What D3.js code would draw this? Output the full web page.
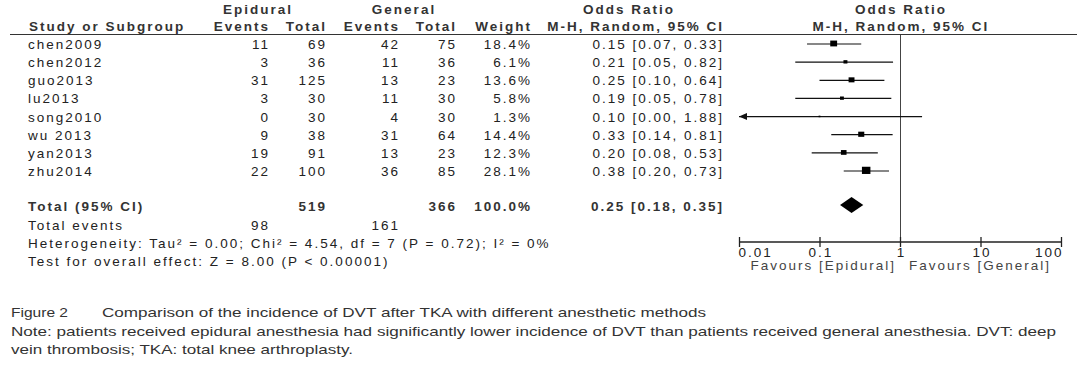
<!DOCTYPE html>
<html>
<head>
<meta charset="utf-8">
<script src="https://cdn.jsdelivr.net/npm/d3@7"></script>
<style>
body { margin: 0; background: #fff; }
text { font-family: "Liberation Sans", Arial, sans-serif; }
</style>
</head>
<body>
<div id="chart"></div>
<script>
let w = 1092
let h = 391

// study rows
let studies = ["chen2009", "chen2012", "guo2013", "lu2013", "song2010", "wu 2013", "yan2013", "zhu2014"]
let epiEvents = [11, 3, 31, 3, 0, 9, 19, 22]
let epiTotal = [69, 36, 125, 30, 30, 38, 91, 100]
let genEvents = [42, 11, 13, 11, 4, 31, 13, 36]
let genTotal = [75, 36, 23, 30, 30, 64, 23, 85]
let weights = [18.4, 6.1, 13.6, 5.8, 1.3, 14.4, 12.3, 28.1]
let oddsRatio = [0.15, 0.21, 0.25, 0.19, 0.10, 0.33, 0.20, 0.38]
let ciLow = [0.07, 0.05, 0.10, 0.05, 0.00, 0.14, 0.08, 0.20]
let ciHigh = [0.33, 0.82, 0.64, 0.78, 1.88, 0.81, 0.53, 0.73]

// pooled result
let pooled = [0.25, 0.18, 0.35]
let totals = [519, 366]
let totalEvents = [98, 161]

let ticks = [0.01, 0.1, 1, 10, 100]
let tickLabels = ["0.01", "0.1", "1", "10", "100"]

let svg = d3.select("#chart")
  .append("svg")
  .attr("width", w)
  .attr("height", h)

let x = d3.scaleLog()
  .domain([0.01, 100])
  .range([739, 1061])

let y = d3.scaleLinear()
  .domain([0, studies.length - 1])
  .range([44, 171])

let ink = "#222"
let fmt2 = d3.format(".2f")

let txt = (s, tx, ty, anchor, bold) => {
  return svg.append("text")
    .attr("x", tx)
    .attr("y", ty)
    .attr("text-anchor", anchor || "start")
    .attr("font-size", 13.5)
    .attr("letter-spacing", 2)
    .attr("font-weight", bold ? "bold" : "normal")
    .attr("fill", bold ? "#333" : ink)
    .text(s)
}

// headers
txt("Epidural", 258, 14, "middle", true)
txt("General", 404, 14, "middle", true)
txt("Odds Ratio", 629, 14, "middle", true)
txt("Odds Ratio", x(1) + 1, 14, "middle", true)
txt("Study or Subgroup", 29, 31, "start", true)
txt("Events", 270, 31, "end", true)
txt("Total", 327, 31, "end", true)
txt("Events", 400, 31, "end", true)
txt("Total", 457, 31, "end", true)
txt("Weight", 532, 31, "end", true)
txt("M-H, Random, 95% CI", 724, 31, "end", true)
txt("M-H, Random, 95% CI", x(1) + 1, 31, "middle", true)

svg.append("line")
  .attr("x1", 10).attr("x2", 1077)
  .attr("y1", 34.5).attr("y2", 34.5)
  .attr("stroke", "#333")

// study rows text
studies.forEach((s, i) => {
  let by = y(i) + 5
  txt(s, 28, by)
  txt(epiEvents[i], 270, by, "end")
  txt(epiTotal[i], 327, by, "end")
  txt(genEvents[i], 400, by, "end")
  txt(genTotal[i], 457, by, "end")
  txt(weights[i].toFixed(1) + "%", 532, by, "end")
  txt(fmt2(oddsRatio[i]) + " [" + fmt2(ciLow[i]) + ", " + fmt2(ciHigh[i]) + "]", 724, by, "end")
})

// totals
let ty = 211
txt("Total (95% CI)", 28, ty, "start", true)
txt(totals[0], 327, ty, "end", true)
txt(totals[1], 457, ty, "end", true)
txt("100.0%", 532, ty, "end", true)
txt(fmt2(pooled[0]) + " [" + fmt2(pooled[1]) + ", " + fmt2(pooled[2]) + "]", 724, ty, "end", true)
txt("Total events", 28, 230)
txt(totalEvents[0], 270, 230, "end")
txt(totalEvents[1], 400, 230, "end")
txt("Heterogeneity: Tau\u00b2 = 0.00; Chi\u00b2 = 4.54, df = 7 (P = 0.72); I\u00b2 = 0%", 28, 248)
txt("Test for overall effect: Z = 8.00 (P < 0.00001)", 28, 266)

// line of no effect
svg.append("line")
  .attr("x1", x(1) + 0.5).attr("x2", x(1) + 0.5)
  .attr("y1", 35).attr("y2", 242)
  .attr("stroke", "#444")

// CI lines
let rows = svg.append("g")
studies.forEach((s, i) => {
  let lo = Math.max(ciLow[i], 0.01)
  rows.append("line")
    .attr("x1", x(lo)).attr("x2", x(ciHigh[i]))
    .attr("y1", y(i)).attr("y2", y(i))
    .attr("stroke", "#111")
    .attr("stroke-width", 1.2)
  if (ciLow[i] < 0.01) {
    let ax = x(0.01)
    rows.append("path")
      .attr("d", `M${ax},${y(i)} L${ax + 8},${y(i) - 3.5} L${ax + 8},${y(i) + 3.5} Z`)
      .attr("fill", "#111")
  }
  let side = 1.6 * Math.sqrt(weights[i])
  rows.append("rect")
    .attr("x", x(oddsRatio[i]) - side / 2)
    .attr("y", y(i) - side / 2)
    .attr("width", side)
    .attr("height", side * 0.85)
    .attr("fill", "#000")
})

// pooled diamond
let dy = 205
svg.append("path")
  .attr("d", `M${x(pooled[1])},${dy} L${x(pooled[0])},${dy - 8} L${x(pooled[2])},${dy} L${x(pooled[0])},${dy + 8} Z`)
  .attr("fill", "#000")

// axis
let axisY = 242
let xAxis = d3.axisBottom(x)
  .tickValues(ticks)
  .tickFormat((d, i) => tickLabels[i])
  .tickSize(0)
let ag = svg.append("g")
  .attr("transform", `translate(0,${axisY})`)
  .call(xAxis)
ag.select(".domain").attr("stroke", "#222").attr("stroke-width", 1.3).attr("d", `M${x(0.01)},0H${x(100)}`)
ag.selectAll(".tick line").remove()
ag.selectAll(".tick").append("line")
  .attr("y1", -5).attr("y2", 5)
  .attr("stroke", "#222").attr("stroke-width", 1.3)
ag.selectAll(".tick text")
  .attr("y", 15)
  .attr("dy", null)
  .attr("font-size", 13.5)
  .attr("letter-spacing", 2)
  .attr("font-family", "Liberation Sans, Arial, sans-serif")
  .attr("text-anchor", (d, i) => i === 0 ? "start" : i === ticks.length - 1 ? "end" : "middle")
  .attr("dx", (d, i) => i === 0 ? -1 : i === ticks.length - 1 ? 2 : 1)
  .attr("fill", ink)

txt("Favours [Epidural]", x(1) - 4, 270, "end").attr("fill", "#444")
txt("Favours [General]", x(1) + 9, 270, "start").attr("fill", "#444")

// caption
let cap = (s, cx, cy, len) => {
  svg.append("text")
    .attr("x", cx).attr("y", cy)
    .attr("font-size", 13)
    .attr("fill", "#333")
    .attr("textLength", len)
    .attr("lengthAdjust", "spacingAndGlyphs")
    .text(s)
}
cap("Figure 2", 11, 317, 57)
cap("Comparison of the incidence of DVT after TKA with different anesthetic methods", 102, 317, 604)
cap("Note: patients received epidural anesthesia had significantly lower incidence of DVT than patients received general anesthesia. DVT: deep", 11, 336, 1045)
cap("vein thrombosis; TKA: total knee arthroplasty.", 11, 354, 342)
</script>
</body>
</html>
